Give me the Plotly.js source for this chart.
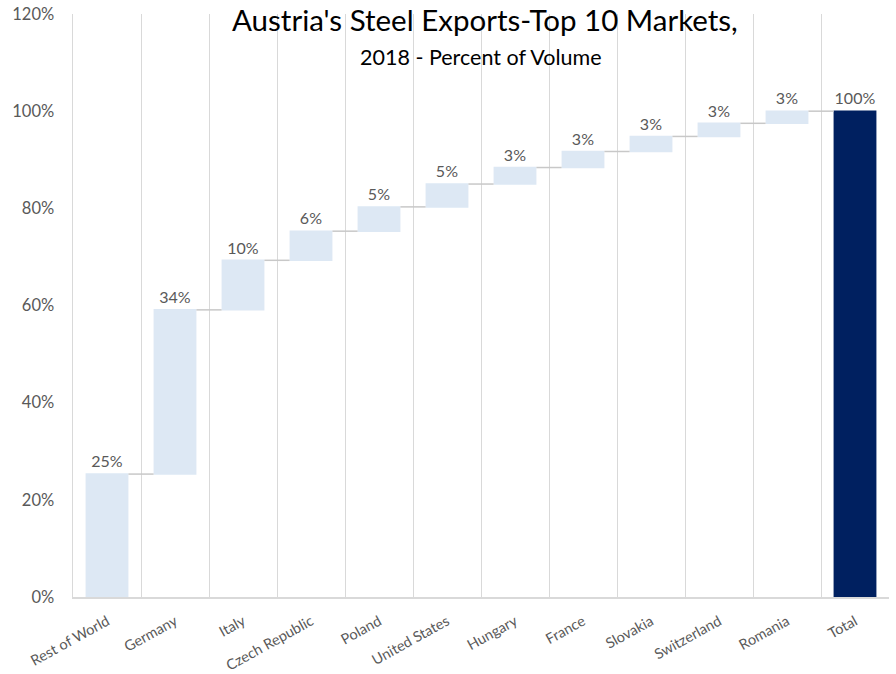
<!DOCTYPE html>
<html>
<head>
<meta charset="utf-8">
<script src="https://cdn.plot.ly/plotly-3.0.1.min.js"></script>
<style>html,body{margin:0;padding:0;background:#fff;}#chart{width:896px;height:674px;}</style>
</head>
<body>
<div id="chart"></div>
<script>
// Data (percent of export volume)
const categories = ["Rest of World", "Germany", "Italy", "Czech Republic", "Poland", "United States",
                    "Hungary", "France", "Slovakia", "Switzerland", "Romania", "Total"];
const shares = [25.3, 33.8, 10.2, 6.0, 5.0, 4.7, 3.4, 3.3, 3.1, 2.7, 2.5, 100];
const measures = ["relative","relative","relative","relative","relative","relative",
                  "relative","relative","relative","relative","relative","total"];
const valueLabels = ["25%","34%","10%","6%","5%","5%","3%","3%","3%","3%","3%","100%"];
const yTickVals = [0, 20, 40, 60, 80, 100, 120];
const titleLine1 = "Austria's Steel Exports-Top 10 Markets,";
const titleLine2 = "2018 - Percent of Volume";

const trace = {
  type: "waterfall",
  x: categories,
  y: shares.map((v, i) => measures[i] === "total" ? 0 : v),
  measure: measures,
  text: valueLabels,
  textposition: "outside",
  textfont: {family: "Lato, sans-serif", size: 16, color: "#595959"},
  cliponaxis: false,
  increasing: {marker: {color: "#dde8f4"}},
  decreasing: {marker: {color: "#dde8f4"}},
  totals: {marker: {color: "#002060"}},
  connector: {mode: "between", line: {color: "#c8c8c8", width: 1.5}},
  hoverinfo: "x+text"
};

const layout = {
  width: 896, height: 674,
  margin: {l: 73, r: 7, t: 14, b: 77},
  paper_bgcolor: "#ffffff",
  plot_bgcolor: "#ffffff",
  showlegend: false,
  waterfallgap: 0.37,
  font: {family: "Lato, sans-serif", color: "#595959"},
  annotations: [
    {text: titleLine1, xref: "paper", yref: "paper", x: 0.505, y: 0.99,
     xanchor: "center", yanchor: "middle", showarrow: false,
     font: {family: "Lato, sans-serif", size: 29.5, color: "#000000"}},
    {text: titleLine2, xref: "paper", yref: "paper", x: 0.5, y: 0.926,
     xanchor: "center", yanchor: "middle", showarrow: false,
     font: {family: "Lato, sans-serif", size: 21.5, color: "#000000"}}
  ],
  xaxis: {
    type: "category",
    tickson: "boundaries",
    showgrid: true,
    gridcolor: "#d9d9d9",
    gridwidth: 1,
    showline: true,
    linecolor: "#d9d9d9",
    linewidth: 1.5,
    ticks: "",
    tickangle: -29,
    ticklabelstandoff: 9,
    tickfont: {family: "Lato, sans-serif", size: 14.5, color: "#595959"}
  },
  yaxis: {
    range: [0, 120],
    tickvals: yTickVals,
    ticktext: yTickVals.map(v => v + "%"),
    showgrid: false,
    zeroline: false,
    showline: true,
    linecolor: "#d9d9d9",
    linewidth: 1.5,
    ticks: "",
    ticklabelstandoff: 14,
    tickfont: {family: "Lato, sans-serif", size: 16.5, color: "#595959"}
  }
};

Plotly.newPlot("chart", [trace], layout, {displayModeBar: false, staticPlot: true});
</script>
</body>
</html>
